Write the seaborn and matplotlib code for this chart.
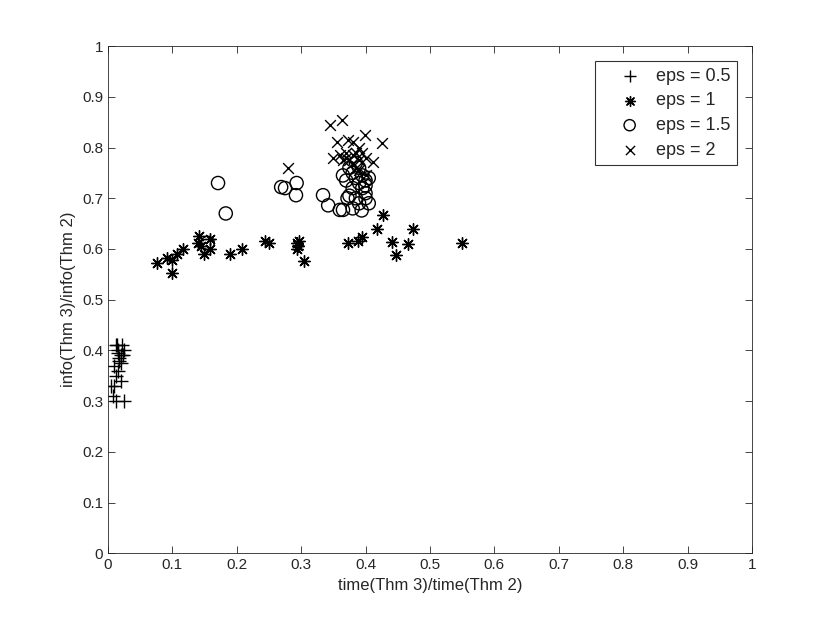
import numpy as np
import pandas as pd
import matplotlib
matplotlib.use("Agg")
import matplotlib.pyplot as plt
import seaborn as sns

# time ratio (x) and info ratio (y) for each eps
eps05_x = [0.012, 0.015, 0.020, 0.018, 0.022, 0.025, 0.010, 0.015, 0.012, 0.010,
           0.020, 0.005, 0.008, 0.012, 0.025, 0.018, 0.016, 0.021, 0.023, 0.014]
eps05_y = [0.410, 0.400, 0.390, 0.380, 0.410, 0.400, 0.370, 0.360, 0.350, 0.330,
           0.340, 0.330, 0.310, 0.300, 0.300, 0.385, 0.395, 0.375, 0.390, 0.410]

eps1_x = [0.076, 0.092, 0.100, 0.100, 0.107, 0.116, 0.141, 0.140, 0.158, 0.144,
          0.158, 0.149, 0.189, 0.208, 0.244, 0.250, 0.293, 0.293, 0.295, 0.304,
          0.297, 0.427, 0.418, 0.474, 0.373, 0.389, 0.394, 0.441, 0.447, 0.466, 0.550]
eps1_y = [0.572, 0.582, 0.578, 0.552, 0.590, 0.600, 0.625, 0.611, 0.620, 0.605,
          0.600, 0.590, 0.590, 0.600, 0.615, 0.611, 0.611, 0.600, 0.605, 0.576,
          0.615, 0.667, 0.639, 0.639, 0.611, 0.615, 0.623, 0.613, 0.588, 0.609, 0.611]

eps15_x = [0.171, 0.183, 0.269, 0.275, 0.293, 0.292, 0.334, 0.342, 0.360, 0.365,
           0.155, 0.375, 0.380, 0.385, 0.390, 0.395, 0.400, 0.380, 0.385, 0.390,
           0.400, 0.375, 0.370, 0.365, 0.390, 0.395, 0.405, 0.400, 0.385, 0.394,
           0.405, 0.380, 0.372, 0.400]
eps15_y = [0.730, 0.670, 0.722, 0.720, 0.730, 0.706, 0.706, 0.686, 0.677, 0.677,
           0.612, 0.760, 0.750, 0.740, 0.730, 0.720, 0.710, 0.720, 0.700, 0.690,
           0.700, 0.705, 0.735, 0.745, 0.760, 0.745, 0.740, 0.725, 0.770, 0.676,
           0.690, 0.680, 0.700, 0.735]

eps2_x = [0.345, 0.363, 0.280, 0.355, 0.399, 0.425, 0.373, 0.380, 0.412, 0.370,
          0.360, 0.375, 0.385, 0.395, 0.380, 0.390, 0.365, 0.350, 0.400, 0.380,
          0.370, 0.390, 0.400, 0.385, 0.390]
eps2_y = [0.844, 0.854, 0.760, 0.810, 0.824, 0.809, 0.815, 0.810, 0.771, 0.780,
          0.785, 0.775, 0.790, 0.790, 0.770, 0.775, 0.775, 0.780, 0.780, 0.785,
          0.790, 0.755, 0.745, 0.760, 0.800]

labels = ["eps = 0.5", "eps = 1", "eps = 1.5", "eps = 2"]
series = [(eps05_x, eps05_y), (eps1_x, eps1_y), (eps15_x, eps15_y), (eps2_x, eps2_y)]
markers = ["+", (8, 2, 0), "o", "x"]
sizes = [110, 70, 90, 60]

sns.set_theme(style="white")
plt.rcParams['font.family'] = ['Liberation Sans', 'DejaVu Sans']

fig = plt.figure(figsize=(8.3, 6.23), dpi=100)
ax = fig.add_axes([0.13, 0.112, 0.776, 0.814])

for (xs, ys), lab, mk, sz in zip(series, labels, markers, sizes):
    df = pd.DataFrame({"x": xs, "y": ys})
    if mk == "o":
        ax.scatter(df["x"], df["y"], marker="o", s=sz, facecolors="none",
                   edgecolors="black", linewidths=1.0, label=lab)
    else:
        sns.scatterplot(data=df, x="x", y="y", marker=mk, s=sz, color="black",
                        linewidth=1.0, ax=ax, label=lab)

ax.set_xlim(0, 1)
ax.set_ylim(0, 1)
ticks = np.arange(0, 1.01, 0.1)
tick_labels = ["0", "0.1", "0.2", "0.3", "0.4", "0.5", "0.6", "0.7", "0.8", "0.9", "1"]
ax.set_xticks(ticks)
ax.set_yticks(ticks)
ax.set_xticklabels(tick_labels)
ax.set_yticklabels(tick_labels)
ax.tick_params(direction="in", length=5, width=0.6, colors="#262626",
               labelsize=11, top=True, right=True, bottom=True, left=True)
for s in ax.spines.values():
    s.set_color("#262626")
    s.set_linewidth(0.6)
ax.set_xlabel("time(Thm 3)/time(Thm 2)", fontsize=12, color="#262626")
ax.set_ylabel("info(Thm 3)/info(Thm 2)", fontsize=12, color="#262626")

leg = ax.legend(loc="upper right", fontsize=13, frameon=True, fancybox=False,
                edgecolor="black", borderaxespad=0.85, handlelength=3.1,
                handletextpad=-0.1, labelspacing=0.42, borderpad=0.35,
                markerscale=0.85)
leg.get_frame().set_linewidth(0.8)

fig.savefig("out.png", dpi=100, facecolor="white")
